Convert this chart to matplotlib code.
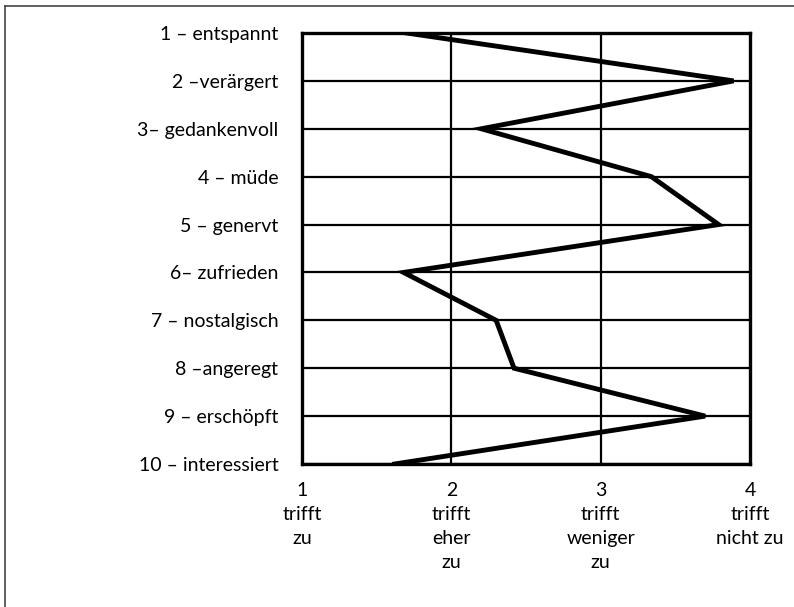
import matplotlib.pyplot as plt
from matplotlib.lines import Line2D

plt.rcParams['font.family'] = ['Lato', 'DejaVu Sans']

items = ["1 – entspannt", "2 –verärgert", "3– gedankenvoll", "4 – müde", "5 – genervt",
         "6– zufrieden", "7 – nostalgisch", "8 –angeregt", "9 – erschöpft", "10 – interessiert"]
ratings = [1.70, 3.89, 2.20, 3.34, 3.79, 1.68, 2.30, 2.42, 3.70, 1.62]
scale_ticks = [1, 2, 3, 4]
scale_labels = ["1\ntrifft\nzu", "2\ntrifft\neher\nzu", "3\ntrifft\nweniger\nzu", "4\ntrifft\nnicht zu"]

fig = plt.figure(figsize=(7.94, 6.07), dpi=100)
ax = fig.add_axes([302/794, 1 - 464/607, (750-302)/794, (464-33)/607])

rows = list(range(len(items)))
for r in rows:
    ax.axhline(r, color="black", lw=1.6, zorder=1)
for t in scale_ticks[1:-1]:
    ax.axvline(t, color="black", lw=1.6, zorder=1)

ax.plot(ratings, rows, color="black", lw=3.5, solid_joinstyle="miter", zorder=3)

ax.set_xlim(1, 4)
ax.set_ylim(len(items) - 1, 0)
for s in ax.spines.values():
    s.set_linewidth(2.4)
    s.set_zorder(2)

ax.set_yticks(rows)
ax.set_yticklabels(items, fontsize=14)
ax.set_xticks(scale_ticks)
ax.set_xticklabels(scale_labels, fontsize=14, va="top", linespacing=1.5)
ax.tick_params(length=0)
ax.tick_params(axis="y", pad=17)
ax.tick_params(axis="x", pad=13)

# frame lines of the original figure (top and left only)
fig.add_artist(Line2D([5/794, 1], [1 - 6/607, 1 - 6/607], color="#444444", lw=1.2, transform=fig.transFigure))
fig.add_artist(Line2D([5/794, 5/794], [1 - 6/607, 0], color="#444444", lw=1.2, transform=fig.transFigure))

fig.savefig("out.png", dpi=100)
